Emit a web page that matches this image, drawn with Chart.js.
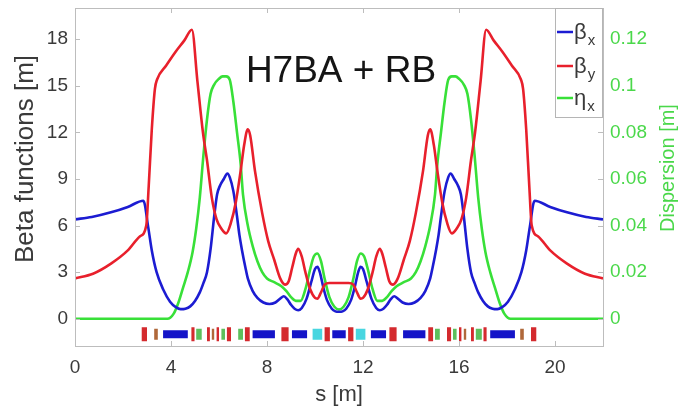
<!DOCTYPE html>
<html>
<head>
<meta charset="utf-8">
<script src="https://cdn.jsdelivr.net/npm/chart.js@4/dist/chart.umd.min.js"></script>
<style>
html,body{margin:0;padding:0;background:#fff;}
#wrap{width:684px;height:409px;}
</style>
</head>
<body>
<div id="wrap"><canvas id="c" width="684" height="409"></canvas></div>
<script>
// ---- data ----
const chartTitle = 'H7BA + RB';
const xTitle = 's [m]';
const yTitle = 'Beta functions [m]';
const y2Title = 'Dispersion [m]';
const sTicks = [0, 4, 8, 12, 16, 20];
const betaTicks = [0, 3, 6, 9, 12, 15, 18];
const dispTicks = [0, 0.02, 0.04, 0.06, 0.08, 0.1, 0.12];
const dispTickLabels = ['0', '0.02', '0.04', '0.06', '0.08', '0.1', '0.12'];

// beta_x [m]
const sBx = [0,0.7,1.5,2.2,2.85,3.05,3.2,3.4,3.67,3.96,4.2,4.4,4.6,4.8,5.0,5.2,5.35,5.5,5.65,5.8,5.92,6.05,6.2,6.35,6.45,6.6,6.75,6.85,6.96,7.1,7.2,7.4,7.6,7.85,8.1,8.35,8.55,8.7,8.85,9.0,9.15,9.3,9.45,9.65,9.85,10.0,10.1,10.2,10.35,10.5,10.7,10.85,11.0,
  11.15,11.3,11.5,11.65,11.8,11.9,12.0,12.15,12.35,12.55,12.7,12.85,13.0,13.15,13.3,13.45,13.65,13.9,14.15,14.4,14.6,14.8,14.9,15.04,15.15,15.25,15.4,15.55,15.65,15.8,15.95,16.08,16.2,16.35,16.5,16.65,16.8,17.0,17.2,17.4,17.6,17.8,18.04,18.33,18.6,18.8,18.95,19.15,19.8,20.5,21.3,22];
const betaX = [6.4,6.55,6.85,7.2,7.6,5.9,4.4,3.0,1.9,1.1,0.75,0.62,0.65,0.8,1.15,1.7,2.3,3.0,4.5,6.6,8.0,8.6,9.0,9.35,9.1,8.2,6.6,5.4,4.4,3.3,2.6,1.8,1.35,1.05,0.95,1.05,1.3,1.45,1.25,0.9,0.65,0.55,0.7,1.3,2.4,3.2,3.35,3.0,2.0,1.2,0.65,0.48,0.45,
  0.48,0.65,1.2,2.0,3.0,3.35,3.2,2.4,1.3,0.7,0.55,0.65,0.9,1.25,1.45,1.3,1.05,0.95,1.05,1.35,1.8,2.6,3.3,4.4,5.4,6.6,8.2,9.1,9.35,9.0,8.6,8.0,6.6,4.5,3.0,2.3,1.7,1.15,0.8,0.65,0.62,0.75,1.1,1.9,3.0,4.4,5.9,7.6,7.2,6.85,6.55,6.4];

// beta_y [m]
const sBy = [0,0.75,1.5,2.2,2.7,2.97,3.07,3.2,3.33,3.42,3.8,4.2,4.55,4.87,5.1,5.33,5.5,5.7,5.9,6.1,6.3,6.5,6.7,6.9,7.05,7.2,7.3,7.5,7.8,8.05,8.3,8.55,8.75,8.9,9.05,9.2,9.3,9.45,9.6,9.8,10.0,10.1,10.25,10.4,10.6,11.0,
  11.4,11.6,11.75,11.9,12.0,12.2,12.4,12.55,12.7,12.8,12.95,13.1,13.25,13.45,13.7,13.95,14.2,14.5,14.7,14.8,14.95,15.1,15.3,15.5,15.7,15.9,16.1,16.3,16.5,16.67,16.9,17.13,17.45,17.8,18.2,18.58,18.67,18.8,18.93,19.03,19.3,19.8,20.5,21.25,22];
const betaY = [2.6,2.9,3.55,4.4,5.3,6.0,8.5,12.2,14.8,15.4,16.3,17.2,17.9,18.6,15.3,12.0,10.2,7.8,6.4,5.8,5.5,6.2,7.5,9.5,11.2,12.2,11.8,9.5,6.8,5.0,3.8,2.6,2.2,2.4,3.3,4.2,4.5,4.0,3.0,1.9,1.35,1.3,1.7,2.2,2.3,2.3,
  2.3,2.2,1.7,1.3,1.35,1.9,3.0,4.0,4.5,4.2,3.3,2.4,2.2,2.6,3.8,5.0,6.8,9.5,11.8,12.2,11.2,9.5,7.5,6.2,5.5,5.8,6.4,7.8,10.2,12.0,15.3,18.6,17.9,17.2,16.3,15.4,14.8,12.2,8.5,6.0,5.3,4.4,3.55,2.9,2.6];

// eta_x [m]
const sEta = [0,3.85,4.1,4.3,4.5,4.7,4.9,5.05,5.2,5.35,5.5,5.65,5.8,6.0,6.15,6.3,6.45,6.6,6.75,6.9,7.0,7.2,7.4,7.6,7.8,8.0,8.3,8.6,8.8,9.0,9.2,9.4,9.6,9.8,9.95,10.1,10.25,10.4,10.6,10.8,11.0,
  11.2,11.4,11.6,11.75,11.9,12.05,12.2,12.4,12.6,12.8,13.0,13.2,13.4,13.7,14.0,14.2,14.4,14.6,14.8,15.0,15.1,15.25,15.4,15.55,15.7,15.85,16.0,16.2,16.35,16.5,16.65,16.8,16.95,17.1,17.3,17.5,17.7,17.9,18.15,22];
const etaX = [0,0,0.002,0.0067,0.0133,0.02,0.0287,0.0387,0.052,0.07,0.0855,0.0965,0.1005,0.103,0.104,0.104,0.1025,0.093,0.08,0.0667,0.0533,0.04,0.0313,0.0247,0.02,0.0173,0.0157,0.014,0.012,0.0093,0.0077,0.0077,0.0127,0.0213,0.0267,0.028,0.0247,0.0173,0.0093,0.0053,0.004,
  0.0053,0.0093,0.0173,0.0247,0.028,0.0267,0.0213,0.0127,0.0077,0.0077,0.0093,0.012,0.014,0.0157,0.0173,0.02,0.0247,0.0313,0.04,0.0533,0.0667,0.08,0.093,0.1025,0.104,0.104,0.103,0.1005,0.0965,0.0855,0.07,0.052,0.0387,0.0287,0.02,0.0133,0.0067,0.002,0,0];

// lattice elements [start, end] in s [m]
const dipoles = [[3.67,4.7],[7.4,8.33],[9.04,9.67],[10.72,11.28],[12.33,12.96],[13.67,14.6],[17.3,18.33]];
const quads = [[2.78,3.0],[4.85,4.98],[5.5,5.62],[5.9,6.0],[6.33,6.5],[7.08,7.28],[8.6,8.9],[10.4,10.62],[11.38,11.6],[13.1,13.4],[14.72,14.92],[15.5,15.67],[16.0,16.1],[16.5,16.62],[17.02,17.15],[19.0,19.22]];
const sextupoles = [[5.05,5.28],[6.1,6.25],[6.8,7.0],[15.0,15.2],[15.75,15.9],[16.7,16.95]];
const octupoles = [[3.3,3.45],[5.7,5.8],[16.2,16.3],[18.55,18.7]];
const reverseBends = [[9.9,10.3],[11.7,12.1]];
const latticeLevel = -1.0;

const legendLabels = [['β','x'], ['β','y'], ['η','x']];

// ---- styles ----
const FONT = "'Liberation Sans', Arial, Helvetica, sans-serif";
const C_BX = '#1c1cd2', C_BY = '#e8202c', C_ETA = '#38e038';
const C_TXT = '#3a3a3a', C_RIGHT = '#4ad84a', C_FRAME = '#bdbdbd';

const pts = (xs, ys) => xs.map((x, i) => ({x, y: ys[i]}));
function segs(list){
  const out = [];
  list.forEach(([a,b]) => { out.push({x:a,y:latticeLevel},{x:b,y:latticeLevel},{x:b,y:null}); });
  return out;
}
function magnetSet(list, color, h){
  return {label:'_m', data: segs(list), borderColor: color, backgroundColor: color, borderWidth: h,
    borderCapStyle:'butt', pointRadius:0, tension:0, spanGaps:false, yAxisID:'y', order:5};
}
function fixFit(w, h){
  return s => {
    if (w !== null) s.width = w;
    if (h !== null) s.height = h;
    s.paddingTop = 0; s.paddingBottom = 0; s.paddingLeft = 0; s.paddingRight = 0;
  };
}

const overlay = {
  id:'overlay',
  afterDraw(chart){
    const ctx = chart.ctx, a = chart.chartArea;
    const sx = chart.scales.x, sy = chart.scales.y, sy2 = chart.scales.y2;
    ctx.save();
    // frame
    ctx.strokeStyle = C_FRAME; ctx.lineWidth = 1;
    ctx.strokeRect(Math.round(a.left)+0.5, Math.round(a.top)+0.5, Math.round(a.right-a.left), Math.round(a.bottom-a.top));
    // inward ticks
    ctx.beginPath();
    sTicks.forEach(v => { const px = Math.round(sx.getPixelForValue(v))+0.5;
      ctx.moveTo(px, a.bottom); ctx.lineTo(px, a.bottom-5); ctx.moveTo(px, a.top); ctx.lineTo(px, a.top+5); });
    betaTicks.forEach(v => { const py = Math.round(sy.getPixelForValue(v))+0.5;
      ctx.moveTo(a.left, py); ctx.lineTo(a.left+5, py); });
    dispTicks.forEach(v => { const py = Math.round(sy2.getPixelForValue(v))+0.5;
      ctx.moveTo(a.right, py); ctx.lineTo(a.right-5, py); });
    ctx.stroke();
    // axis titles
    ctx.textAlign = 'center'; ctx.textBaseline = 'middle';
    ctx.save();
    ctx.translate(26, a.top + 151); ctx.rotate(-Math.PI/2);
    ctx.fillStyle = C_TXT; ctx.font = '26px ' + FONT;
    ctx.fillText(yTitle, 0, 0);
    ctx.restore();
    ctx.save();
    ctx.translate(a.right + 65, a.top + 160); ctx.rotate(-Math.PI/2);
    ctx.fillStyle = C_RIGHT; ctx.font = '20px ' + FONT;
    ctx.fillText(y2Title, 0, 0);
    ctx.restore();
    // title inside plot
    ctx.fillStyle = '#151515';
    ctx.font = '37px ' + FONT;
    ctx.textAlign = 'center'; ctx.textBaseline = 'alphabetic';
    ctx.fillText(chartTitle, (a.left+a.right)/2 + 2, a.top + 74);
    // legend
    const lx = a.right - 48, ly = a.top, lw = 48, lh = 109;
    ctx.fillStyle = '#fff'; ctx.fillRect(lx, ly, lw, lh);
    ctx.strokeStyle = '#b5b5b5'; ctx.lineWidth = 1; ctx.strokeRect(Math.round(lx)+0.5, ly+0.5, lw-1, lh);
    const cols = [C_BX, C_BY, C_ETA];
    const rows = [24, 58, 90];
    legendLabels.forEach((lab, i) => {
      const y = ly + rows[i];
      ctx.strokeStyle = cols[i]; ctx.lineWidth = 2.5;
      ctx.beginPath(); ctx.moveTo(lx+2, y); ctx.lineTo(lx+18, y); ctx.stroke();
      ctx.fillStyle = C_TXT; ctx.textAlign = 'left'; ctx.textBaseline = 'alphabetic';
      ctx.font = '22px ' + FONT;
      ctx.fillText(lab[0], lx+19, y+7);
      const w = ctx.measureText(lab[0]).width;
      ctx.font = '15px ' + FONT;
      ctx.fillText(lab[1], lx+19+w+1, y+13);
    });
    ctx.restore();
  }
};

new Chart(document.getElementById('c'), {
  type:'line',
  data:{
    datasets:[
      {label:'βx', data: pts(sBx, betaX), borderColor: C_BX, borderWidth:2.6, pointRadius:0, cubicInterpolationMode:'monotone', yAxisID:'y', order:2},
      {label:'βy', data: pts(sBy, betaY), borderColor: C_BY, borderWidth:2.6, pointRadius:0, cubicInterpolationMode:'monotone', yAxisID:'y', order:1},
      {label:'ηx', data: pts(sEta, etaX), borderColor: C_ETA, borderWidth:2.6, pointRadius:0, cubicInterpolationMode:'monotone', yAxisID:'y2', order:3},
      magnetSet(dipoles, '#1414c8', 8),
      magnetSet(quads, '#d42a2e', 14),
      magnetSet(sextupoles, '#5cc05c', 11),
      magnetSet(octupoles, '#b0683a', 11),
      magnetSet(reverseBends, '#48d6e0', 11)
    ]
  },
  options:{
    responsive:false, animation:false, devicePixelRatio:1,
    layout:{padding:{top:8, left:0, right:0, bottom:0}},
    plugins:{legend:{display:false}, tooltip:{enabled:false}, title:{display:false}},
    scales:{
      x:{type:'linear', min:0, max:22,
        grid:{display:false, drawTicks:false}, border:{display:false},
        afterBuildTicks: s => { s.ticks = sTicks.map(v => ({value:v})); },
        afterFit: fixFit(null, 63),
        ticks:{font:{family:FONT, size:19}, color:C_TXT, padding:10, maxRotation:0},
        title:{display:true, text:xTitle, font:{family:FONT, size:22}, color:C_TXT, padding:{top:0,bottom:1}}
      },
      y:{type:'linear', position:'left', min:-1.75, max:20,
        grid:{display:false, drawTicks:false}, border:{display:false},
        afterBuildTicks: s => { s.ticks = betaTicks.map(v => ({value:v})); },
        afterFit: fixFit(75, null),
        ticks:{font:{family:FONT, size:19}, color:C_TXT, padding:7}
      },
      y2:{type:'linear', position:'right', min:-1.75/150, max:20/150,
        grid:{display:false, drawTicks:false}, border:{display:false},
        afterBuildTicks: s => { s.ticks = dispTicks.map(v => ({value:v})); },
        afterFit: fixFit(81, null),
        ticks:{font:{family:FONT, size:19}, color:C_RIGHT, padding:7, callback:(v,i) => dispTickLabels[i]}
      }
    }
  },
  plugins:[overlay]
});
</script>
</body>
</html>
